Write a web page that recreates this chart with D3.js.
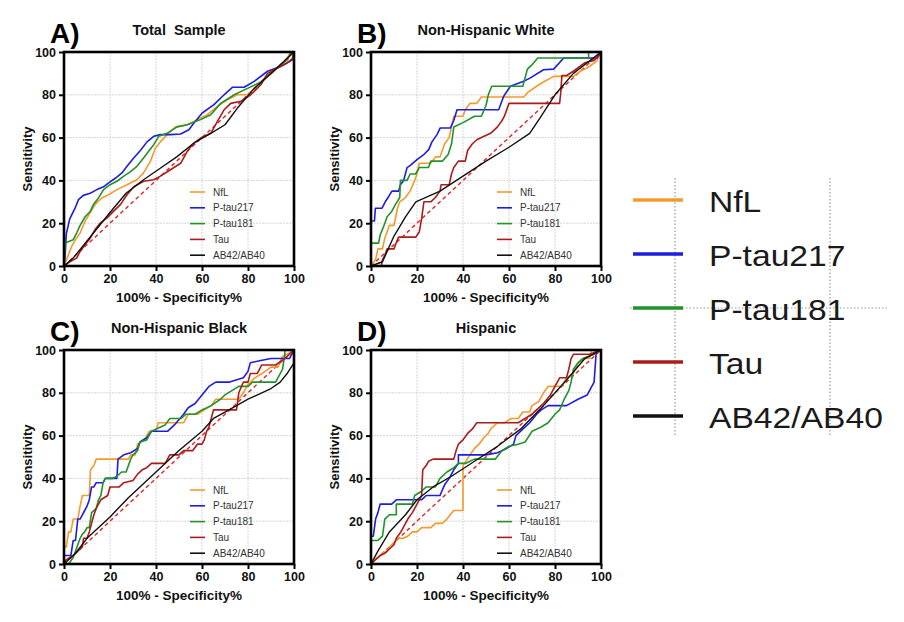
<!DOCTYPE html>
<html>
<head>
<meta charset="utf-8">
<script src="https://cdn.jsdelivr.net/npm/d3@7"></script>
<style>
  body { margin: 0; background: #fff; }
  svg { font-family: "Liberation Sans", Arial, sans-serif; }
  text { white-space: pre; }
</style>
</head>
<body>
<svg id="chart" width="904" height="622"></svg>
<script>
"use strict";

// series / categories
const markers = ["NfL", "P-tau217", "P-tau181", "Tau", "AB42/AB40"];
const panelLetters = ["A)", "B)", "C)", "D)"];
const panelTitles = ["Total  Sample", "Non-Hispanic White", "Non-Hispanic Black", "Hispanic"];
const tickValues = [0, 20, 40, 60, 80, 100];

// A) Total sample  [100% - specificity, sensitivity]
const totalNfL = [[0,0],[1.8,5],[3.3,9],[4.8,12],[7,15.4],[9.2,21],[11.4,25],[13.5,28.7],[16.4,31.8],[19.4,33.3],[23,35.7],[27.4,38],[31.7,40.3],[34.6,43.5],[37.6,49],[39.7,55],[41.9,58],[44.8,61.4],[48.5,65],[53.6,66],[58,68.4],[62.3,70.7],[66.7,74.6],[71,77.7],[75.4,80],[79.8,80],[85.6,86],[91.4,91],[95.9,95.6],[98.7,100],[100,100]];
const totalPtau217 = [[0,0],[0.5,5],[1,15],[2.5,22],[4.8,27],[6.3,31],[8.4,33],[11.4,34],[14.3,35.7],[17.2,37],[19.4,38.8],[22.3,41],[25.2,43.5],[27.4,46.6],[30.3,50.5],[33.2,54],[36.1,58],[39,60.6],[42,61.4],[46.3,61.4],[50.7,61.7],[54.3,63.7],[56.5,66.8],[60.1,71.5],[65.2,75.4],[69.6,80],[73.2,83.5],[78.3,83.5],[82.7,86.3],[88.5,91],[94.3,93.3],[99.4,96.4],[100,100]];
const totalPtau181 = [[0,0],[0.5,10.7],[4,12.3],[5.5,15.4],[7,19],[9.2,23],[11.4,25.5],[12.8,28.7],[15,31.8],[17.2,35.7],[20,38],[23,39.6],[26,42],[28.8,44],[31.7,46.6],[34.6,50.5],[36.8,53.6],[39,56.7],[41.2,60.6],[44.8,62],[49.2,65],[53.6,66],[59.4,68.4],[63.8,70.7],[68.1,76],[74,80],[79.8,83],[85.6,86],[91.4,91.7],[97.2,96.4],[98.7,100],[100,100]];
const totalTau = [[0,0],[2.6,2],[5.5,3.7],[7,6.8],[9.2,10],[11.4,13],[13.5,17],[15.7,20],[18.6,22.4],[21.5,25.5],[24.5,28.7],[27.4,33.3],[30.3,37],[34.6,39.6],[39,40.3],[41.9,42],[46.3,45],[50.7,48],[53.6,53.6],[55.8,56.7],[59.4,59.8],[63.8,62],[66.7,67.6],[69.6,73],[72.5,76],[76.9,77],[81.2,80],[85.6,84.7],[88.5,90],[92.9,92.5],[97.2,95],[99.4,97],[100,100]];
const totalAB = [[0,0],[4,3.7],[12.8,15.4],[20,25],[27,34],[34.6,40.3],[42,45.8],[49,51],[56.5,57.5],[63.8,62],[70,66],[75.4,73.8],[82.7,83],[90,90],[98.8,98.8],[100,100]];

// B) Non-Hispanic White
const whiteNfL = [[0,0],[2,3],[3,8],[5,8],[6,13],[7,16],[8,19],[10,19],[11.5,27],[12.5,30],[15,32],[17,35],[19,40],[20,43],[21,48],[26,48],[28,51],[30,51],[31,54],[32,57],[34,60],[35,65],[36,70],[40,70],[41,73],[43,76],[46,76],[48,79],[66.4,79],[68,81],[72,84],[75,86],[79.4,88.6],[88,88.6],[91,91],[94.6,93],[98,95.6],[100,100]];
const whitePtau217 = [[0,0],[0,21],[1.5,21],[1.9,27],[4.8,27],[6.2,30],[7.7,32.5],[9.1,35],[12,35],[12.8,38],[14.2,40],[15.7,46],[17.1,47],[20,49.7],[22.9,52],[25.1,54.4],[26.5,58],[28.7,61.4],[30.1,64.5],[34.5,64.5],[36,68],[37.4,73],[55.5,73],[57.7,79.3],[60.6,84],[66.4,86.3],[69.3,87.9],[75,91.7],[79.4,92],[83.8,97.2],[98.3,97.2],[100,100]];
const whitePtau181 = [[0,0],[0,10.7],[3.3,10.7],[4,14.6],[5.5,18.5],[7,23],[9,25.5],[10.6,28.7],[12.5,32],[12.8,40],[15.7,40],[17,43],[19.4,43],[21,46],[25,46],[26,49],[31,49],[33.5,52],[35,57],[36,65],[40,67],[45,70],[48,70],[50,75],[51,80],[52.5,84],[66,84],[68,92],[70,94],[72.5,97.2],[94.6,97.2],[94.6,100],[100,100]];
const whiteTau = [[0,0],[4.5,0],[5,3],[6,5],[7,8],[10,8],[11,11],[12,13.5],[19.5,13.5],[21,16],[22,22],[23,30],[26,30],[28,32],[30,35],[30.5,38],[34,38],[35,43],[36,46],[38,49],[41,49],[42,54],[44,57],[46,59],[48,60],[52,62],[55,65],[57,68],[58,70],[60,76],[82,76],[82.5,81],[83,89],[85,89],[88,91],[93,95],[97,96],[100,100]];
const whiteAB = [[0,0],[5,2],[10,14],[15,23],[19.5,30],[30,35],[40,42],[50,49],[60,55.5],[69,62],[74,70],[80,80],[88,90],[100,100]];

// C) Non-Hispanic Black
const blackNfL = [[0,0],[0,8],[1,8],[2,15],[3,15],[4,21],[6,21],[7,27],[8,32],[11,32],[11.5,44],[13,46],[14,49],[28,49],[29,51],[31,51],[32,56],[35,58],[37,62],[40,62],[41,66],[52,66],[54,70],[58,70],[61,72],[64,74],[66,77],[76,77],[78,80],[80,84],[83,87],[86,89],[90,92],[93,92],[95,97],[97,98],[100,100]];
const blackPtau217 = [[0,0],[0,4],[3,4],[4,11],[5,11],[6,21],[7,21],[8,23],[9,25],[10,27],[11,30],[12,36],[13,36],[14,38],[17,38],[18,40],[23,40],[23.5,49],[26,51],[29,52],[32,54],[33,57],[36,59],[38,62],[45,62],[48,65],[52,70],[54,73],[57,75],[60,79],[63,83],[66,85],[72,85],[78,87],[80,90],[81,94],[85,95],[90,96],[98,96],[99,98],[100,100]];
const blackPtau181 = [[0,0],[2,0],[4,3],[5,6],[6,9],[7,12],[8,14],[9,15],[10,17],[11,17],[12,24],[14,26],[15,30],[16,32],[17,38],[18,40],[21,40],[23,41],[25,43],[27,43],[29,49],[30,51],[32,53],[33,57],[36,58],[38,62],[42,64],[44,65],[46,68],[51,68],[53,70],[57,70],[60,72],[64,74],[68,77],[70,79],[73,81],[76,83],[80,83],[82,85],[92,85],[94,89],[95,91],[96,98],[96,100],[100,100]];
const blackTau = [[0,0],[1,2],[4,4],[6,6],[8,8],[8.5,12],[10,12],[11,15],[12,19],[13,23],[14,26],[16,30],[19,32],[20,36],[24,36],[26,38],[30,39],[32,42],[34,44],[36,45],[38,47],[44,47],[46,51],[50,51],[52,53],[56,53],[58,56],[60,56],[61,58],[62,62],[63,64],[64,68],[65,72],[75,72],[76,80],[78,85],[80,85],[81,89],[84,89],[86,93],[92,93],[96,96],[100,100]];
const blackAB = [[0,0],[5,5],[10,12],[20,22],[28,31],[40,43],[50,53],[60,62],[65,68],[70,71],[80,77],[90,82],[94,85],[97,89],[100,94]];

// D) Hispanic
const hispNfL = [[0,0],[1,2],[3,3],[5,5],[7,6],[8,8],[10,10],[12,12],[14,12],[16,13],[18,15],[20,15],[22,17],[26,17],[28,19],[31,19],[33,21],[36,25],[40,25],[40,46],[43,51],[45,54],[47,56],[49,59],[51,61],[52,63],[55,66],[58,66],[61,68],[64,68],[66,71],[69,71],[70,74],[73,76],[75,80],[77,83],[83,83],[85,87],[88,89],[90,94],[93,96],[95,96],[96,100],[100,100]];
const hispPtau217 = [[0,0],[0,13],[1,13],[2,21],[3,24],[4,28],[9,28],[11,30],[22,30],[24,32],[30,32],[32,37],[34,40],[36,44],[38,47],[38,51],[50,51],[55,52],[59,54],[62,56],[63,60],[66,63],[69,66],[72,70],[74,72],[77,74],[85,74],[90,77],[94,79],[96,83],[97,85],[98,100],[100,100]];
const hispPtau181 = [[0,0],[0,11],[3,11],[5,13],[6,21],[8,23],[11,23],[11,28],[18,28],[19,32],[22,34],[24,36],[28,36],[30,40],[33,43],[36,45],[38,47],[41,47],[45,49],[54,49],[57,53],[60,55],[64,56],[67,57],[70,62],[74,64],[77,66],[80,70],[82,72],[84,77],[86,81],[87,85],[88,91],[90,94],[92,96],[97,98],[98,100],[100,100]];
const hispTau = [[0,0],[2,2],[4,4],[6,5],[8,7],[10,9],[11,12],[13,15],[14,17],[16,21],[18,24],[20,28],[22,32],[22.5,44],[24,46],[25,48],[27,49],[36,49],[37,53],[38,56],[40,58],[42,61],[44,63],[46,66],[64,66],[67,68],[70,70],[72,72],[75,75],[78,79],[80,83],[82,87],[85,87],[86,91],[87,96],[88,98],[95,98],[100,100]];
const hispAB = [[0,0],[3,6],[8,15],[15,23],[20,30],[27,36],[35,41],[45,48],[55,55],[65,63],[75,74],[85,86],[93,96],[100,100]];

const panelSeries = [
  [totalNfL, totalPtau217, totalPtau181, totalTau, totalAB],
  [whiteNfL, whitePtau217, whitePtau181, whiteTau, whiteAB],
  [blackNfL, blackPtau217, blackPtau181, blackTau, blackAB],
  [hispNfL, hispPtau217, hispPtau181, hispTau, hispAB]
];

const colors = ["#f39a2c", "#1d1de0", "#22922a", "#aa1c1c", "#111111"];
const font = "'Liberation Sans', Arial, sans-serif";

const svg = d3.select("#chart");
svg.append("rect").attr("width", 904).attr("height", 622).attr("fill", "#fff");

const lefts = [64, 371];
const tops = [52, 350];
const W = 230, H = 214;

panelTitles.forEach((title, i) => {
  const ox = lefts[i % 2], oy = tops[Math.floor(i / 2)];
  const g = svg.append("g").attr("transform", `translate(${ox},${oy})`);
  const x = d3.scaleLinear().domain([0, 100]).range([0, W]);
  const y = d3.scaleLinear().domain([0, 100]).range([H, 0]);

  // grid
  g.append("g").selectAll("line").data([20, 40, 60, 80]).enter().append("line")
    .attr("x1", d => x(d)).attr("x2", d => x(d)).attr("y1", 0).attr("y2", H)
    .attr("stroke", "#d6d6d6").attr("stroke-width", 1).attr("stroke-dasharray", "2,1");
  g.append("g").selectAll("line").data([20, 40, 60, 80]).enter().append("line")
    .attr("y1", d => y(d)).attr("y2", d => y(d)).attr("x1", 0).attr("x2", W)
    .attr("stroke", "#d6d6d6").attr("stroke-width", 1).attr("stroke-dasharray", "2,1");

  // reference diagonal
  g.append("line")
    .attr("x1", x(0)).attr("y1", y(0)).attr("x2", x(100)).attr("y2", y(100))
    .attr("stroke", "#e02424").attr("stroke-width", 1.4).attr("stroke-dasharray", "4,3");

  const line = d3.line().x(d => x(d[0])).y(d => y(d[1]));
  panelSeries[i].forEach((pts, k) => {
    g.append("path").datum(pts).attr("d", line)
      .attr("fill", "none").attr("stroke", colors[k])
      .attr("stroke-width", k === 4 ? 1.4 : 1.6).attr("stroke-linejoin", "round");
  });

  // axes
  const xa = g.append("g").attr("transform", `translate(0,${H})`)
    .call(d3.axisBottom(x).tickValues(tickValues).tickSize(5).tickPadding(3));
  const ya = g.append("g")
    .call(d3.axisLeft(y).tickValues(tickValues).tickSize(5).tickPadding(3));
  [xa, ya].forEach(a => {
    a.select(".domain").remove();
    a.selectAll(".tick line").attr("stroke", "#000").attr("stroke-width", 2);
    a.selectAll("text").attr("font-family", font).attr("font-weight", "bold")
      .attr("font-size", 12.5).attr("fill", "#111");
  });

  // frame
  g.append("rect").attr("width", W).attr("height", H)
    .attr("fill", "none").attr("stroke", "#000").attr("stroke-width", 2.6);

  // inner legend
  const leg = g.append("g").attr("transform", "translate(126,140)");
  markers.forEach((m, k) => {
    leg.append("line").attr("x1", 0).attr("x2", 15)
      .attr("y1", k * 15.8).attr("y2", k * 15.8)
      .attr("stroke", colors[k]).attr("stroke-width", 1.6);
    leg.append("text").attr("x", 23).attr("y", k * 15.8 + 3.5)
      .attr("font-family", font).attr("font-size", 10).attr("fill", "#333").text(m);
  });

  // titles
  g.append("text").attr("x", -14).attr("y", -9)
    .attr("font-family", font).attr("font-weight", "bold").attr("font-size", 28)
    .attr("fill", "#000").text(panelLetters[i]);
  g.append("text").attr("x", W / 2).attr("y", -17).attr("text-anchor", "middle")
    .attr("font-family", font).attr("font-weight", "bold").attr("font-size", 14.5)
    .attr("fill", "#111").text(title);
  g.append("text").attr("x", W / 2).attr("y", H + 36).attr("text-anchor", "middle")
    .attr("font-family", font).attr("font-weight", "bold").attr("font-size", 13.5)
    .attr("fill", "#111").text("100% - Specificity%");
  g.append("text").attr("transform", `translate(-32,${H / 2}) rotate(-90)`)
    .attr("text-anchor", "middle")
    .attr("font-family", font).attr("font-weight", "bold").attr("font-size", 13)
    .attr("fill", "#111").text("Sensitivity");
});

// big side legend with its dotted guide lines
const side = svg.append("g");
side.append("line").attr("x1", 675).attr("x2", 675).attr("y1", 178).attr("y2", 437)
  .attr("stroke", "#999").attr("stroke-width", 1.2).attr("stroke-dasharray", "1.5,2");
side.append("line").attr("x1", 830).attr("x2", 830).attr("y1", 178).attr("y2", 437)
  .attr("stroke", "#999").attr("stroke-width", 1.2).attr("stroke-dasharray", "1.5,2");
side.append("line").attr("x1", 630).attr("x2", 887).attr("y1", 308).attr("y2", 308)
  .attr("stroke", "#999").attr("stroke-width", 1.2).attr("stroke-dasharray", "1.5,2");
markers.forEach((m, k) => {
  const yy = 200 + k * 54;
  side.append("line").attr("x1", 633).attr("x2", 683).attr("y1", yy).attr("y2", yy)
    .attr("stroke", colors[k]).attr("stroke-width", 3.5);
  side.append("text").attr("transform", `translate(709,${yy + 12}) scale(1.16,1)`)
    .attr("font-family", font).attr("font-size", 29).attr("fill", "#1a1a1a").text(m);
});
</script>
</body>
</html>
